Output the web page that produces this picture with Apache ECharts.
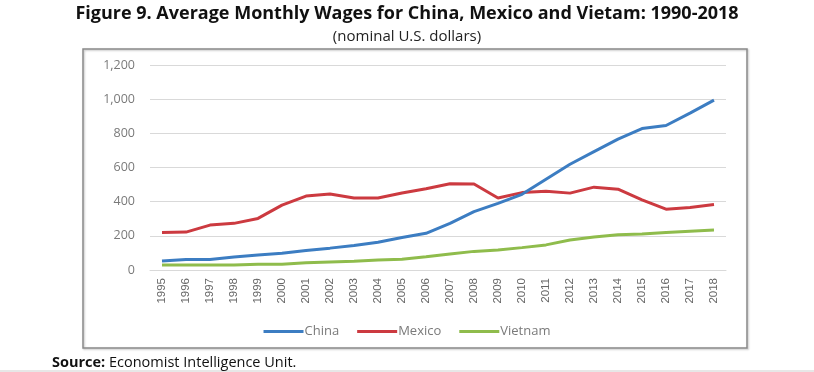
<!DOCTYPE html>
<html>
<head>
<meta charset="utf-8">
<script src="https://cdn.jsdelivr.net/npm/echarts@6/dist/echarts.min.js"></script>
<style>html,body{margin:0;padding:0;background:#fff;}#c{width:814px;height:372px;}</style>
</head>
<body>
<div id="c"></div>
<script>
const years = ['1995','1996','1997','1998','1999','2000','2001','2002','2003','2004','2005','2006','2007','2008','2009','2010','2011','2012','2013','2014','2015','2016','2017','2018'];
const china   = [53, 62, 62, 76, 88, 98, 114, 128, 143, 163, 190, 215, 273, 342, 390, 443, 531, 619, 693, 766, 828, 846, 918, 994];
const mexico  = [220, 222, 263, 273, 302, 380, 433, 445, 422, 422, 451, 476, 505, 503, 421, 453, 461, 450, 485, 473, 410, 356, 366, 383];
const vietnam = [30, 30, 29, 29, 33, 34, 43, 47, 51, 58, 63, 78, 94, 109, 117, 131, 147, 176, 193, 207, 211, 219, 227, 234];
const yTicks = [0, 200, 400, 600, 800, 1000, 1200];

const chart = echarts.init(document.getElementById('c'));
const lineStyle = (c) => ({ width: 3, color: c });
chart.setOption({
  animation: false,
  title: {
    text: 'Figure 9. Average Monthly Wages for China, Mexico and Vietam: 1990-2018',
    subtext: '(nominal U.S. dollars)',
    left: 'center', top: 0, itemGap: 6,
    textStyle: { fontFamily: 'Open Sans', fontWeight: 'bold', fontSize: 18, color: '#111' },
    subtextStyle: { fontFamily: 'Open Sans', fontSize: 15, color: '#222' }
  },
  graphic: [
    { type: 'rect', shape: { x: 83, y: 49, width: 664, height: 299 }, style: { fill: 'none', stroke: '#8a8a8a', lineWidth: 1.5, shadowBlur: 2, shadowColor: 'rgba(0,0,0,0.25)', shadowOffsetX: 1, shadowOffsetY: 1 }, z: -1 },
    { type: 'line', shape: { x1: 0, y1: 371, x2: 814, y2: 371 }, style: { stroke: '#cfcfcf', lineWidth: 1 } },
    { type: 'text', left: 52, top: 355, style: { text: '{b|Source:} Economist Intelligence Unit.', rich: { b: { fontFamily: 'Open Sans', fontWeight: 'bold', fontSize: 14.5, fill: '#111' } }, fontFamily: 'Open Sans', fontSize: 14.5, fill: '#111' } }
  ],
  legend: {
    data: ['China', 'Mexico', 'Vietnam'],
    left: 'center', top: 320, itemWidth: 40, itemHeight: 3, itemGap: 18,
    icon: 'rect',
    textStyle: { fontFamily: 'Open Sans', fontSize: 13, color: '#7a7a7a', padding: [0,0,0,-4] }
  },
  grid: { left: 150, top: 65, width: 576, height: 205, containLabel: false },
  xAxis: {
    type: 'category', data: years, boundaryGap: true,
    axisLine: { lineStyle: { color: '#d9d9d9' } },
    axisTick: { show: false },
    axisLabel: { rotate: 90, fontFamily: 'Liberation Sans', fontSize: 11.5, color: '#666', margin: 8, interval: 0 }
  },
  yAxis: {
    type: 'value', min: 0, max: 1200, interval: 200,
    axisLine: { show: false }, axisTick: { show: false },
    splitLine: { lineStyle: { color: '#d9d9d9', width: 1 } },
    axisLabel: { fontFamily: 'Open Sans', fontSize: 12.5, color: '#7a7a7a', margin: 15,
      formatter: v => yTicks.includes(v) ? v.toLocaleString('en-US') : '' }
  },
  series: [
    { name: 'China', type: 'line', data: china, symbol: 'none', lineStyle: lineStyle('#3c7dc2'), itemStyle: { color: '#3c7dc2' }, z: 3 },
    { name: 'Mexico', type: 'line', data: mexico, symbol: 'none', lineStyle: lineStyle('#cc3a40'), itemStyle: { color: '#cc3a40' }, z: 2 },
    { name: 'Vietnam', type: 'line', data: vietnam, symbol: 'none', lineStyle: lineStyle('#8fbc4c'), itemStyle: { color: '#8fbc4c' }, z: 1 }
  ]
});
</script>
</body>
</html>
